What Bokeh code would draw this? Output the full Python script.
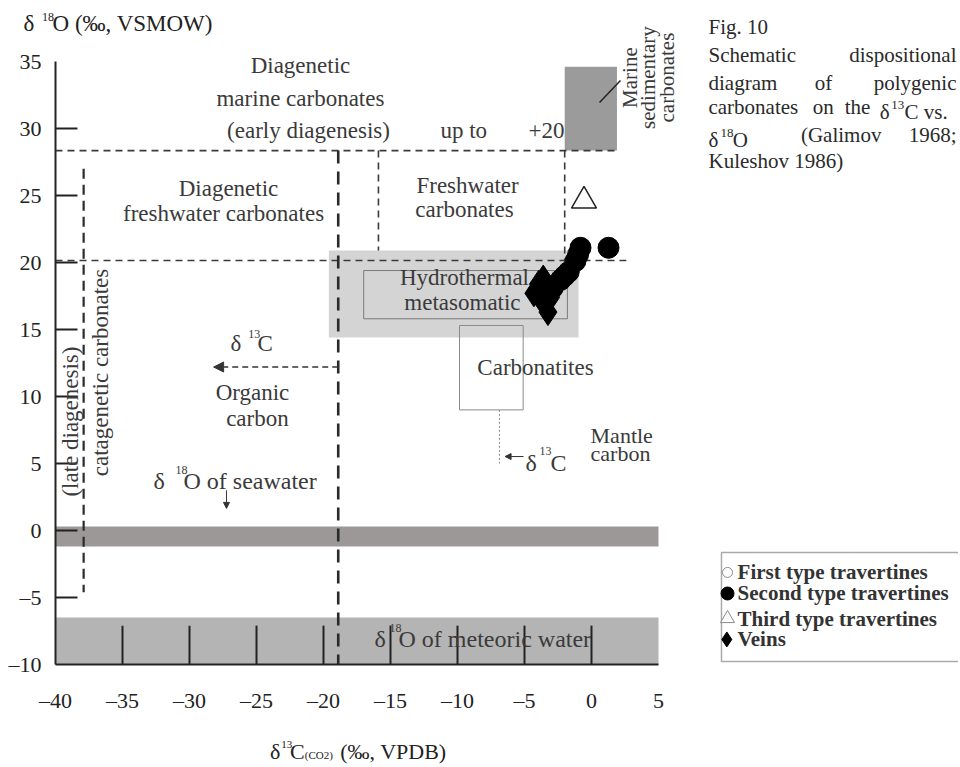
from bokeh.plotting import figure
from bokeh.models import Range1d, Label, Arrow, NormalHead, ColumnDataSource
from bokeh.embed import file_html
from bokeh.resources import INLINE
from bokeh.core.properties import value

# ---------------- data ----------------
x_ticks = [-40, -35, -30, -25, -20, -15, -10, -5, 0, 5]
x_tick_labels = ["–40", "–35", "–30", "–25", "–20", "–15", "–10", "–5", "0", "5"]
y_ticks = [-10, -5, 0, 5, 10, 15, 20, 25, 30, 35]
y_tick_labels = ["–10", "–5", "0", "5", "10", "15", "20", "25", "30", "35"]
x_tick_marks = [-35, -30, -25, -20, -15, -10, -5, 0]
y_tick_marks = [-5, 0, 5, 10, 15, 20, 25, 30]

first_type_c13 = []
first_type_o18 = []
second_type_c13 = [-3.6, -3.2, -2.9, -2.3, -2.0, -1.7, -1.2, -1.0, -0.82, 1.27]
second_type_o18 = [17.8, 17.9, 18.1, 18.7, 19.0, 19.3, 20.1, 20.6, 21.1, 21.1]
third_type_c13 = [-0.56]
third_type_o18 = [24.6]
veins_c13 = [-4.3, -3.95, -3.6, -3.6, -3.25, -3.05]
veins_o18 = [17.7, 18.4, 18.8, 17.0, 16.3, 17.4]

legend_labels = ["First type travertines", "Second type travertines",
                 "Third type travertines", "Veins"]

# schematic field boundaries (delta13C, delta18O)
x_axis_range = (-40, 5)
y_axis_range = (-10, 35)
seawater_band = (-1.2, 0.3)
meteoric_band = (-10.0, -6.5)
hydrothermal_box = (-19.6, -0.97, 14.4, 20.9)
hydrothermal_inner = (-17.0, -1.8, 15.8, 19.4)
carbonatites_box = (-9.85, -5.1, 9.0, 15.3)
marine_box = (-2.0, 1.9, 28.35, 34.6)
marine_upper_o18 = 28.35
freshwater_lower_o18 = 20.15
organic_c13_limit = -18.9
freshwater_c13_left = -15.9
freshwater_c13_right = -2.0
catagenetic_c13 = -37.9

SERIF = "Liberation Serif"
TXT = "#3a3a3a"
INK = "#222222"
CAPC = "#2a2a2a"

# the plotting frame covers the whole canvas (13.4 px per unit) so that the
# texts placed around the diagram are not clipped
PX = 13.4
W, H = 958, 765
p = figure(width=W, height=H,
           x_range=Range1d(-40 - 55 / PX, -40 + (W - 55) / PX),
           y_range=Range1d(-10 - (H - 664) / PX, 35 + 61 / PX),
           output_backend="svg", toolbar_location=None,
           x_axis_location=None, y_axis_location=None,
           min_border=0, min_border_left=0, min_border_right=0,
           min_border_top=0, min_border_bottom=0)
p.outline_line_color = None
p.grid.visible = False

xmin, xmax = x_axis_range
ymin, ymax = y_axis_range

# ---------------- fields ----------------
p.quad(left=xmin, right=xmax, bottom=meteoric_band[0], top=meteoric_band[1],
       fill_color="#b4b4b4", line_color=None)
p.quad(left=xmin, right=xmax, bottom=seawater_band[0], top=seawater_band[1],
       fill_color="#9c9898", line_color=None)
hb = hydrothermal_box
p.quad(left=hb[0], right=hb[1], bottom=hb[2], top=hb[3], fill_color="#d4d4d4", line_color=None)
hi = hydrothermal_inner
p.quad(left=hi[0], right=hi[1], bottom=hi[2], top=hi[3], fill_color=None,
       line_color="#7a7a7a", line_width=1)
cb = carbonatites_box
p.quad(left=cb[0], right=cb[1], bottom=cb[2], top=cb[3], fill_color=None,
       line_color="#8a8a8a", line_width=1)
mb = marine_box
p.quad(left=mb[0], right=mb[1], bottom=mb[2], top=mb[3], fill_color="#9b9b9b", line_color=None)
p.line([0.6, 2.16], [31.94, 33.58], line_color=INK, line_width=1.5)

# dashed boundaries
thin = dict(line_color="#3a3a3a", line_width=1.6, line_dash="7 5")
p.line([xmin, mb[1]], [marine_upper_o18, marine_upper_o18], **thin)
p.line([xmin, 2.6], [freshwater_lower_o18, freshwater_lower_o18], **thin)
p.line([freshwater_c13_left, freshwater_c13_left], [marine_upper_o18, hb[3]], **thin)
p.line([freshwater_c13_right, freshwater_c13_right], [marine_upper_o18, freshwater_lower_o18], **thin)
p.line([organic_c13_limit, organic_c13_limit], [marine_upper_o18, ymin],
       line_color="#2a2a2a", line_width=2.6, line_dash="13 8")
p.line([catagenetic_c13, catagenetic_c13], [27.0, -4.6],
       line_color="#2a2a2a", line_width=2.2, line_dash="10 6")
p.line([-6.87, -6.87], [cb[2], 5.0], line_color="#8a8a8a", line_width=1, line_dash="2 2")

# ---------------- axes ----------------
p.line([xmin, xmax], [ymin, ymin], line_color=INK, line_width=2)
p.line([xmin, xmin], [ymin, ymax], line_color=INK, line_width=2)
p.segment(x0=x_tick_marks, y0=[ymin] * len(x_tick_marks), x1=x_tick_marks,
          y1=[ymin + 2.9] * len(x_tick_marks), line_color=INK, line_width=2)
p.segment(x0=[xmin] * len(y_tick_marks), y0=y_tick_marks, x1=[xmin + 1.64] * len(y_tick_marks),
          y1=y_tick_marks, line_color=INK, line_width=2)
xt_src = ColumnDataSource(dict(x=x_ticks, y=[ymin - 36 / PX] * len(x_ticks), t=x_tick_labels))
p.text(x="x", y="y", text="t", source=xt_src, text_font=value(SERIF), text_font_size="22px",
       text_align="center", text_baseline="middle", text_color=INK)
yt_src = ColumnDataSource(dict(x=[xmin - 14 / PX] * len(y_ticks), y=y_ticks, t=y_tick_labels))
p.text(x="x", y="y", text="t", source=yt_src, text_font=value(SERIF), text_font_size="22px",
       text_align="right", text_baseline="middle", text_color=INK)

# arrows
p.add_layout(Arrow(end=NormalHead(size=10, fill_color="#333", line_color="#333"),
                   x_start=organic_c13_limit, y_start=12.2, x_end=-28.2, y_end=12.2,
                   line_color="#333", line_width=1.6, line_dash="6 4"))
p.add_layout(Arrow(end=NormalHead(size=6, fill_color="#333", line_color="#333"),
                   x_start=-27.24, y_start=3.0, x_end=-27.24, y_end=1.65,
                   line_color="#333", line_width=1))
p.add_layout(Arrow(end=NormalHead(size=6, fill_color="#333", line_color="#333"),
                   x_start=-5.07, y_start=5.52, x_end=-6.45, y_end=5.52,
                   line_color="#333", line_width=1))

# ---------------- samples ----------------
p.scatter(x=first_type_c13, y=first_type_o18, marker="circle", size=12,
          fill_color="white", line_color="#888888")
p.scatter(x=veins_c13, y=veins_o18, marker="diamond", size=27, color="black")
p.scatter(x=second_type_c13, y=second_type_o18, marker="circle", size=21, color="black")
p.scatter(x=third_type_c13, y=third_type_o18, marker="triangle", size=25,
          fill_color="white", line_color=INK, line_width=1.5)

# ---------------- legend (box with keys) ----------------
lg_left, lg_right, lg_bottom, lg_top = 9.70, 30.0, -9.78, -1.64
p.quad(left=lg_left, right=lg_right, bottom=lg_bottom, top=lg_top,
       fill_color="white", line_color="#aaaaaa", line_width=1.5)
row_y = [-3.13, -4.70, -6.57, -8.13]
key_x = 10.15
p.scatter(x=[key_x], y=[row_y[0]], marker="circle", size=10, fill_color="white",
          line_color="#8a8a8a", line_width=1)
p.scatter(x=[key_x], y=[row_y[1]], marker="circle", size=13, color="black")
p.scatter(x=[key_x], y=[row_y[2]], marker="triangle", size=14, fill_color="white",
          line_color="#8a8a8a", line_width=1)
p.scatter(x=[key_x - 0.05], y=[row_y[3]], marker="diamond", size=15, color="black")
lg_src = ColumnDataSource(dict(x=[10.90] * 4, y=row_y, t=legend_labels))
p.text(x="x", y="y", text="t", source=lg_src, text_font=value(SERIF), text_font_size="21px",
       text_font_style="bold", text_align="left", text_baseline="middle", text_color="#333333")


# ---------------- texts ----------------
def txt(x, y, s, size=23, align="center", baseline="middle", angle=0, color=TXT):
    p.add_layout(Label(x=x, y=y, text=s, text_font=SERIF, text_font_size=f"{size}px",
                       text_align=align, text_baseline=baseline, angle=angle,
                       angle_units="deg", text_color=color))


# axis titles
txt(-42.39, 37.8, "δ", 23, "left", "alphabetic", color=INK)
txt(-41.0, 38.35, "18", 12, "left", "alphabetic", color=INK)
txt(-40.22, 37.8, "O (‰, VSMOW)", 23, "left", "alphabetic", color=INK)

txt(-24.0, -16.49, "δ", 22, "left", "alphabetic", color=INK)
txt(-23.15, -15.97, "13", 11, "left", "alphabetic", color=INK)
txt(-22.5, -16.49, "C", 22, "left", "alphabetic", color=INK)
txt(-21.4, -16.75, "(CO2)", 11, "left", "alphabetic", color=INK)
txt(-18.75, -16.49, "(‰, VPDB)", 22, "left", "alphabetic", color=INK)

# field names
txt(-21.72, 34.70, "Diagenetic")
txt(-21.72, 32.24, "marine carbonates")
txt(-21.12, 29.85, "(early diagenesis)")
txt(-11.27, 29.85, "up to", align="left")
txt(-4.70, 29.85, "+20", align="left")
txt(-27.09, 25.52, "Diagenetic")
txt(-27.46, 23.66, "freshwater carbonates")
txt(-9.25, 25.75, "Freshwater")
txt(-9.48, 23.96, "carbonates")
txt(-9.48, 18.88, "Hydrothermal")
txt(-9.63, 17.01, "metasomatic")
txt(-4.18, 12.16, "Carbonatites")
txt(-0.07, 7.09, "Mantle", 22, "left")
txt(-0.07, 5.75, "carbon", 22, "left")
txt(-4.93, 5.07, "δ", 24, "left", "alphabetic")
txt(-3.88, 5.97, "13", 12, "left", "alphabetic")
txt(-3.06, 5.07, "C", 24, "left", "alphabetic")

txt(-26.94, 13.96, "δ", 23, "left", "alphabetic")
txt(-25.62, 14.63, "13", 12, "left", "alphabetic")
txt(-24.93, 13.96, "C", 23, "left", "alphabetic")
txt(-25.30, 10.30, "Organic")
txt(-24.93, 8.36, "carbon")

txt(-32.69, 3.73, "δ", 24, "left", "alphabetic")
txt(-31.04, 4.48, "18", 12, "left", "alphabetic")
txt(-30.45, 3.73, "O of seawater", 24, "left", "alphabetic")

txt(-16.19, -8.06, "δ", 24, "left", "alphabetic")
txt(-15.07, -7.31, "18", 12, "left", "alphabetic")
txt(-14.40, -8.06, "O of meteoric water", 24, "left", "alphabetic")

txt(-38.88, 8.13, "(late diagenesis)", angle=90)
txt(-36.64, 11.79, "catagenetic carbonates", angle=90)

txt(2.91, 33.8, "Marine", 21, angle=90)
txt(4.25, 33.8, "sedimentary", 21, angle=90)
txt(5.67, 33.8, "carbonates", 21, angle=90)

# caption
CAP = 21
RX = 27.24
txt(8.73, 37.54, "Fig. 10", CAP, "left", color=CAPC)
txt(8.73, 35.45, "Schematic", CAP, "left", color=CAPC)
txt(RX, 35.45, "dispositional", CAP, "right", color=CAPC)
txt(8.73, 33.43, "diagram", CAP, "left", color=CAPC)
txt(16.66, 33.43, "of", CAP, "left", color=CAPC)
txt(RX, 33.43, "polygenic", CAP, "right", color=CAPC)
txt(8.73, 31.57, "carbonates", CAP, "left", color=CAPC)
txt(16.51, 31.57, "on", CAP, "left", color=CAPC)
txt(18.90, 31.57, "the", CAP, "left", color=CAPC)
txt(21.51, 31.2, "δ", CAP, "left", "alphabetic", color=CAPC)
txt(22.37, 31.75, "13", 13, "left", "alphabetic", color=CAPC)
txt(23.36, 31.2, "C vs.", CAP, "left", "alphabetic", color=CAPC)
txt(8.73, 29.11, "δ", CAP, "left", "alphabetic", color=CAPC)
txt(9.63, 29.66, "18", 13, "left", "alphabetic", color=CAPC)
txt(10.55, 29.11, "O", CAP, "left", "alphabetic", color=CAPC)
txt(15.63, 29.48, "(Galimov", CAP, "left", color=CAPC)
txt(RX, 29.48, "1968;", CAP, "right", color=CAPC)
txt(8.73, 27.61, "Kuleshov 1986)", CAP, "left", color=CAPC)

open("out.html", "w").write(file_html(p, INLINE))
